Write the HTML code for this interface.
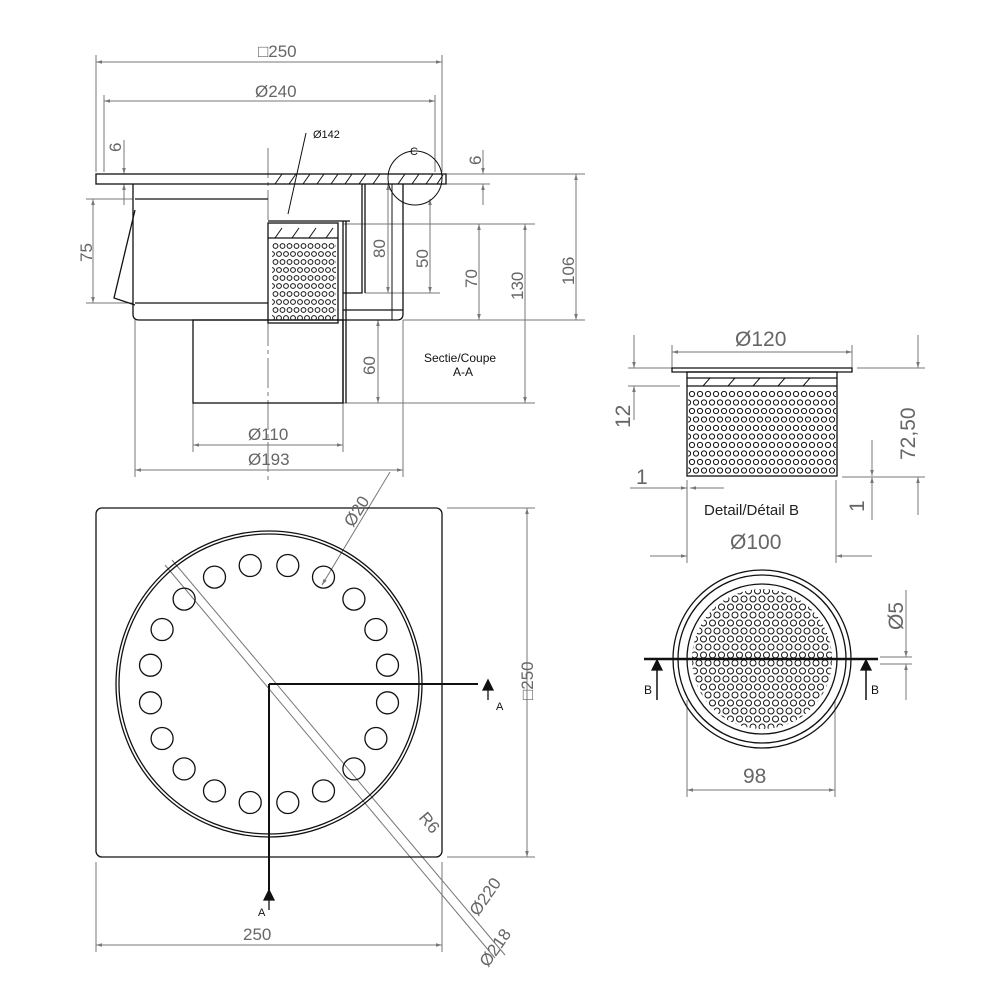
<!DOCTYPE html>
<html><head><meta charset="utf-8"><style>
body{margin:0;background:#fff}
svg{display:block;font-family:"Liberation Sans",sans-serif}
.d{stroke:#777;stroke-width:1;fill:none}
.k{stroke:#111;stroke-width:1.3;fill:none}
.t{fill:#666;font-size:17px}
.s{fill:#111;font-size:11px}
</style></head><body>
<svg width="1000" height="1000" viewBox="0 0 1000 1000">
<defs>
<marker id="a" viewBox="0 0 10 10" refX="10" refY="5" markerWidth="9" markerHeight="6" orient="auto-start-reverse"><path d="M0,2 L10,5 L0,8z" fill="#777"/></marker>
<pattern id="p1" x="688" y="390" width="8" height="17" patternUnits="userSpaceOnUse">
<circle cx="4" cy="4" r="2.6" fill="none" stroke="#111" stroke-width="1"/><circle cx="0" cy="12.5" r="2.6" fill="none" stroke="#111" stroke-width="1"/><circle cx="8" cy="12.5" r="2.6" fill="none" stroke="#111" stroke-width="1"/></pattern>
<pattern id="p2" x="272" y="242" width="7" height="16" patternUnits="userSpaceOnUse">
<circle cx="3.5" cy="4" r="2.4" fill="none" stroke="#111" stroke-width="1"/><circle cx="0" cy="12" r="2.4" fill="none" stroke="#111" stroke-width="1"/><circle cx="7" cy="12" r="2.4" fill="none" stroke="#111" stroke-width="1"/></pattern>
<pattern id="p3" x="690" y="587" width="9" height="16" patternUnits="userSpaceOnUse">
<circle cx="4.5" cy="4" r="3" fill="none" stroke="#111" stroke-width="1"/><circle cx="0" cy="12" r="3" fill="none" stroke="#111" stroke-width="1"/><circle cx="9" cy="12" r="3" fill="none" stroke="#111" stroke-width="1"/></pattern>
</defs>
<g class="d">
<line x1="96" y1="55" x2="96" y2="172"/><line x1="442" y1="55" x2="442" y2="172"/>
<line x1="96" y1="62" x2="442" y2="62" marker-start="url(#a)" marker-end="url(#a)"/>
<line x1="104" y1="95" x2="104" y2="172"/><line x1="435" y1="95" x2="435" y2="172"/>
<line x1="104" y1="101" x2="435" y2="101" marker-start="url(#a)" marker-end="url(#a)"/>
<line x1="124" y1="140" x2="124" y2="174" marker-end="url(#a)"/><line x1="124" y1="205" x2="124" y2="184" marker-end="url(#a)"/>
<line x1="86" y1="199" x2="133" y2="199"/><line x1="86" y1="303" x2="133" y2="303"/>
<line x1="93" y1="199" x2="93" y2="303" marker-start="url(#a)" marker-end="url(#a)"/>
<line x1="388" y1="184" x2="388" y2="293" marker-start="url(#a)" marker-end="url(#a)"/>
<line x1="430" y1="199" x2="430" y2="293" marker-start="url(#a)" marker-end="url(#a)"/>
<line x1="365" y1="293" x2="440" y2="293"/>
<line x1="343" y1="224" x2="535" y2="224"/>
<line x1="479" y1="224" x2="479" y2="320" marker-start="url(#a)" marker-end="url(#a)"/>
<line x1="403" y1="320" x2="585" y2="320"/>
<line x1="525" y1="224" x2="525" y2="403" marker-start="url(#a)" marker-end="url(#a)"/>
<line x1="343" y1="403" x2="535" y2="403"/>
<line x1="446" y1="174" x2="585" y2="174"/><line x1="446" y1="184" x2="490" y2="184"/>
<line x1="576" y1="174" x2="576" y2="320" marker-start="url(#a)" marker-end="url(#a)"/>
<line x1="483" y1="150" x2="483" y2="174" marker-end="url(#a)"/><line x1="483" y1="205" x2="483" y2="184" marker-end="url(#a)"/>
<line x1="378" y1="320" x2="378" y2="403" marker-start="url(#a)" marker-end="url(#a)"/>
<line x1="193" y1="403" x2="193" y2="452"/><line x1="343" y1="403" x2="343" y2="452"/>
<line x1="193" y1="445" x2="343" y2="445" marker-start="url(#a)" marker-end="url(#a)"/>
<line x1="135" y1="320" x2="135" y2="477"/><line x1="403" y1="320" x2="403" y2="477"/>
<line x1="135" y1="470" x2="403" y2="470" marker-start="url(#a)" marker-end="url(#a)"/>
<line x1="268" y1="148" x2="268" y2="480" stroke-dasharray="30,4,4,4"/>
<circle cx="415" cy="178" r="27" stroke="#111"/>
<line x1="306" y1="133" x2="288" y2="214" stroke="#111"/>
<line x1="96" y1="862" x2="96" y2="952"/><line x1="442" y1="862" x2="442" y2="952"/>
<line x1="96" y1="945" x2="442" y2="945" marker-start="url(#a)" marker-end="url(#a)"/>
<line x1="447" y1="508" x2="535" y2="508"/><line x1="447" y1="857" x2="535" y2="857"/>
<line x1="527" y1="508" x2="527" y2="857" marker-start="url(#a)" marker-end="url(#a)"/>
<line x1="165" y1="565" x2="495" y2="958"/><line x1="172" y1="560" x2="505" y2="955"/>
<line x1="390" y1="472" x2="322" y2="585" marker-end="url(#a)"/>
<line x1="672" y1="345" x2="672" y2="368"/><line x1="852" y1="345" x2="852" y2="368"/>
<line x1="672" y1="352" x2="852" y2="352" marker-start="url(#a)" marker-end="url(#a)"/>
<line x1="628" y1="368" x2="690" y2="368"/><line x1="628" y1="386" x2="680" y2="386"/>
<line x1="634" y1="335" x2="634" y2="368" marker-end="url(#a)"/><line x1="634" y1="420" x2="634" y2="386" marker-end="url(#a)"/>
<line x1="857" y1="368" x2="925" y2="368"/><line x1="842" y1="477" x2="925" y2="477"/>
<line x1="918" y1="335" x2="918" y2="368" marker-end="url(#a)"/><line x1="918" y1="515" x2="918" y2="477" marker-end="url(#a)"/>
<line x1="872" y1="440" x2="872" y2="476" marker-end="url(#a)"/><line x1="872" y1="520" x2="872" y2="477" marker-end="url(#a)"/>
<line x1="630" y1="488" x2="687" y2="488" marker-end="url(#a)"/><line x1="724" y1="488" x2="690" y2="488" marker-end="url(#a)"/>
<line x1="687" y1="480" x2="687" y2="563"/><line x1="836" y1="480" x2="836" y2="563"/>
<line x1="650" y1="556" x2="687" y2="556" marker-end="url(#a)"/><line x1="872" y1="556" x2="836" y2="556" marker-end="url(#a)"/>
<line x1="687" y1="700" x2="687" y2="797"/><line x1="835" y1="700" x2="835" y2="797"/>
<line x1="687" y1="790" x2="835" y2="790" marker-start="url(#a)" marker-end="url(#a)"/>
<line x1="906" y1="590" x2="906" y2="657" marker-end="url(#a)"/><line x1="906" y1="700" x2="906" y2="664" marker-end="url(#a)"/>
<line x1="880" y1="657" x2="912" y2="657"/><line x1="880" y1="664" x2="912" y2="664"/>
</g>
<g class="k">
<rect x="96" y="174" width="350" height="10"/>
<path d="M275,184 L282,174 M289,184 L296,174 M303,184 L310,174 M317,184 L324,174 M331,184 L338,174 M345,184 L352,174 M359,184 L366,174 M373,184 L380,174 M398,184 L405,174 M412,184 L419,174 M426,184 L433,174 M437,184 L443,175" stroke-width="1"/>
<path d="M133,184 V314 Q133,320 139,320 H397 Q403,320 403,314 V184"/>
<line x1="135" y1="199" x2="268" y2="199"/>
<line x1="135" y1="303" x2="268" y2="303"/>
<path d="M135,210 L114,298 L135,305"/>
<rect x="193" y="320" width="150" height="83"/>
<rect x="268" y="223" width="70" height="100"/>
<line x1="268" y1="238" x2="338" y2="238"/>
<path d="M275,238 L282,228 M292,238 L299,228 M309,238 L316,228 M326,238 L333,228" stroke-width="1"/>
<rect x="272" y="242" width="64" height="78" fill="url(#p2)" stroke="none"/>
<path d="M268,221 H350 M343,221 V403 M346,221 V403"/>
<path d="M362,184 V293 H343 M365,184 V293"/>
<path d="M343,310 H403"/>
<path d="M392,184 V320" stroke-width="1"/>
<rect x="96" y="508" width="346" height="349" rx="6"/>
<circle cx="269" cy="684" r="153"/><circle cx="269" cy="684" r="150"/>
<g stroke-width="1.3">
<circle cx="287.8" cy="565.5" r="11"/><circle cx="250.2" cy="565.5" r="11"/><circle cx="287.8" cy="802.5" r="11"/><circle cx="250.2" cy="802.5" r="11"/>
<circle cx="323.5" cy="577.1" r="11"/><circle cx="214.5" cy="577.1" r="11"/><circle cx="323.5" cy="790.9" r="11"/><circle cx="214.5" cy="790.9" r="11"/>
<circle cx="353.9" cy="599.1" r="11"/><circle cx="184.1" cy="599.1" r="11"/><circle cx="353.9" cy="768.9" r="11"/><circle cx="184.1" cy="768.9" r="11"/>
<circle cx="375.9" cy="629.5" r="11"/><circle cx="162.1" cy="629.5" r="11"/><circle cx="375.9" cy="738.5" r="11"/><circle cx="162.1" cy="738.5" r="11"/>
<circle cx="387.5" cy="665.2" r="11"/><circle cx="150.5" cy="665.2" r="11"/><circle cx="387.5" cy="702.8" r="11"/><circle cx="150.5" cy="702.8" r="11"/>
</g>
<path d="M269,684 H478 M269,684 V895" stroke-width="2"/>
<path d="M672,368 H852 V372 H672z"/>
<rect x="687" y="372" width="150" height="104"/>
<line x1="687" y1="378" x2="837" y2="378"/><line x1="687" y1="386" x2="837" y2="386"/>
<path d="M703,386 L710,378 M728,386 L735,378 M753,386 L760,378 M778,386 L785,378 M803,386 L810,378" stroke-width="1"/>
<rect x="688" y="390" width="148" height="84" fill="url(#p1)" stroke="none"/>
<circle cx="762" cy="659" r="89"/><circle cx="762" cy="659" r="84"/><circle cx="762" cy="659" r="75"/>
<circle cx="762" cy="659" r="70" fill="url(#p3)" stroke="none"/>
<line x1="644" y1="659" x2="878" y2="659" stroke-width="2.5"/>
<path d="M657,700 V664 M866,700 V664" stroke-width="1.5"/>
<path d="M652,670 L657,660 L662,670z M861,670 L866,660 L871,670z M483,690 L488,680 L493,690z M264,900 L269,890 L274,900z" fill="#111"/>
<path d="M488,700 V684 M269,910 V895"/>
</g>
<g class="t">
<text x="258" y="57">□250</text>
<text x="255" y="97">Ø240</text>
<text x="313" y="138" class="s">Ø142</text>
<text x="410" y="155" class="s">C</text>
<text transform="translate(121,152) rotate(-90)">6</text>
<text transform="translate(481,165) rotate(-90)">6</text>
<text transform="translate(92,262) rotate(-90)">75</text>
<text transform="translate(385,258) rotate(-90)">80</text>
<text transform="translate(428,268) rotate(-90)">50</text>
<text transform="translate(477,288) rotate(-90)">70</text>
<text transform="translate(523,300) rotate(-90)">130</text>
<text transform="translate(574,285) rotate(-90)">106</text>
<text transform="translate(375,375) rotate(-90)">60</text>
<text x="248" y="440">Ø110</text>
<text x="248" y="465">Ø193</text>
<text x="424" y="362" style="fill:#111;font-size:12px">Sectie/Coupe</text>
<text x="453" y="376" style="fill:#111;font-size:12px">A-A</text>
<text transform="translate(353,528) rotate(-58)">Ø20</text>
<text transform="translate(533,700) rotate(-90)">□250</text>
<text x="243" y="940">250</text>
<text transform="translate(418,818) rotate(50)">R6</text>
<text transform="translate(478,917) rotate(-55)">Ø220</text>
<text transform="translate(488,968) rotate(-55)">Ø218</text>
<text x="496" y="710" class="s">A</text>
<text x="258" y="916" class="s">A</text>
<text x="735" y="346" style="font-size:21px">Ø120</text>
<text transform="translate(630,428) rotate(-90)" style="font-size:21px">12</text>
<text transform="translate(915,460) rotate(-90)" style="font-size:21px">72,50</text>
<text x="636" y="484" style="font-size:21px">1</text>
<text transform="translate(864,512) rotate(-90)" style="font-size:21px">1</text>
<text x="704" y="515" style="fill:#222;font-size:15px">Detail/Détail B</text>
<text x="730" y="549" style="font-size:21px">Ø100</text>
<text transform="translate(903,630) rotate(-90)" style="font-size:21px">Ø5</text>
<text x="743" y="783" style="font-size:21px">98</text>
<text x="644" y="694" class="s" style="font-size:12px">B</text>
<text x="871" y="694" class="s" style="font-size:12px">B</text>
</g>
</svg>
</body></html>
